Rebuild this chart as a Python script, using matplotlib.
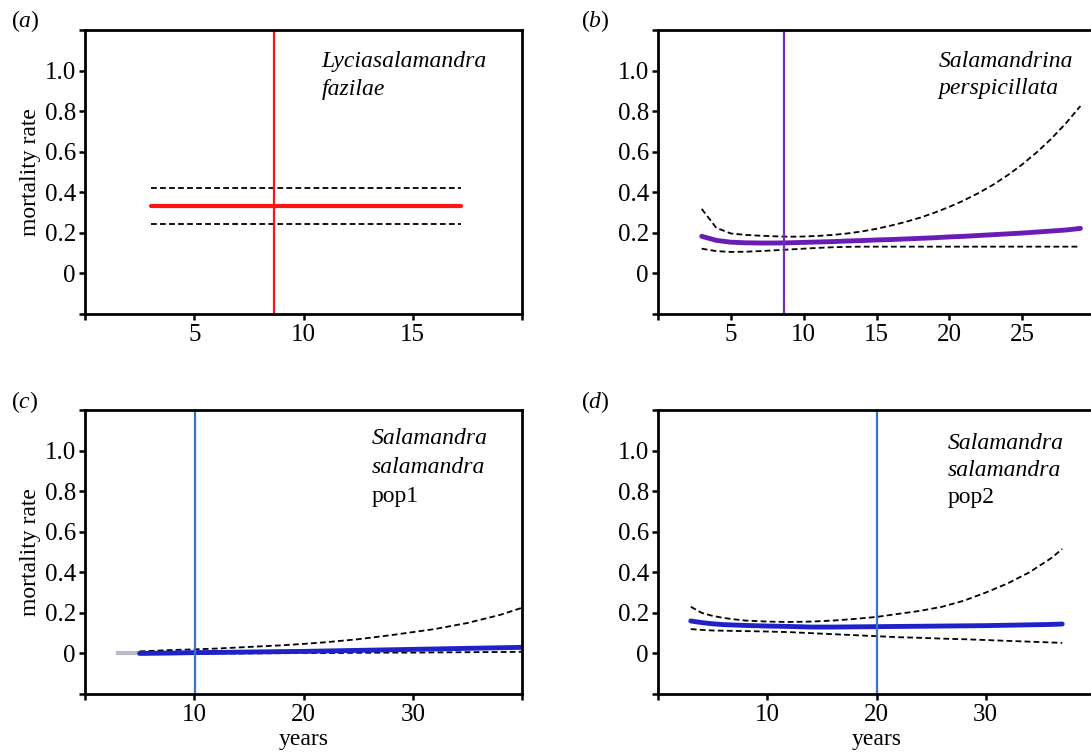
import matplotlib
matplotlib.use("Agg")
import matplotlib.pyplot as plt

plt.rcParams['font.family'] = ['Liberation Serif', 'DejaVu Serif']
plt.rcParams['mathtext.fontset'] = 'custom'
plt.rcParams['mathtext.rm'] = 'Liberation Serif'
plt.rcParams['mathtext.it'] = 'Liberation Serif:italic'

# ---------------- data ----------------
# (a) Lyciasalamandra fazilae
years_a = [3.0, 17.2]
mean_a = [0.33, 0.33]
upper_a = [0.42, 0.42]
lower_a = [0.245, 0.245]
vline_a = 8.66

# (b) Salamandrina perspicillata
years_b = [3, 4, 5, 6, 7, 8, 9, 10, 11, 12, 13, 14, 15, 16, 17, 18, 19, 20,
           21, 22, 23, 24, 25, 26, 27, 28, 29]
mean_b = [0.183, 0.163, 0.154, 0.151, 0.150, 0.150, 0.151, 0.153, 0.155, 0.157,
          0.160, 0.162, 0.165, 0.167, 0.170, 0.173, 0.176, 0.180, 0.183, 0.187,
          0.191, 0.195, 0.199, 0.204, 0.209, 0.214, 0.222]
upper_b = [0.318, 0.225, 0.197, 0.190, 0.186, 0.183, 0.181, 0.182, 0.185, 0.190,
           0.197, 0.207, 0.220, 0.236, 0.254, 0.275, 0.300, 0.328, 0.360, 0.396,
           0.437, 0.484, 0.537, 0.597, 0.664, 0.740, 0.825]
lower_b = [0.122, 0.110, 0.106, 0.107, 0.110, 0.114, 0.118, 0.122, 0.126, 0.129,
           0.131, 0.132, 0.132, 0.132, 0.132, 0.132, 0.132, 0.132, 0.132, 0.132,
           0.132, 0.132, 0.132, 0.132, 0.132, 0.132, 0.132]
vline_b = 8.67

# (c) Salamandra salamandra pop1
years_c = [5, 8, 10, 12, 15, 18, 20, 22, 25, 28, 30, 32, 35, 38, 40]
mean_c = [0.0, 0.002, 0.004, 0.005, 0.007, 0.009, 0.010, 0.012, 0.015, 0.018,
          0.020, 0.022, 0.025, 0.028, 0.030]
upper_c = [0.010, 0.017, 0.020, 0.024, 0.032, 0.040, 0.047, 0.055, 0.070, 0.090,
           0.105, 0.120, 0.150, 0.190, 0.225]
lower_c = [-0.003, -0.002, -0.001, 0.0, 0.0, 0.001, 0.002, 0.002, 0.003, 0.004,
           0.004, 0.005, 0.006, 0.007, 0.008]
early_years_c = [3, 5]
early_mean_c = [0.0, 0.0]
vline_c = 10.1

# (d) Salamandra salamandra pop2
years_d = [3, 4, 5, 6, 7, 8, 10, 12, 14, 16, 18, 20, 22, 24, 26, 28, 30, 32, 34, 36, 37]
mean_d = [0.160, 0.152, 0.146, 0.142, 0.140, 0.138, 0.135, 0.133, 0.130, 0.130,
          0.131, 0.132, 0.133, 0.134, 0.135, 0.136, 0.137, 0.139, 0.141, 0.143, 0.145]
upper_d = [0.230, 0.200, 0.185, 0.175, 0.168, 0.162, 0.157, 0.155, 0.157, 0.162,
           0.170, 0.180, 0.195, 0.210, 0.230, 0.260, 0.300, 0.345, 0.400, 0.470, 0.515]
lower_d = [0.120, 0.116, 0.113, 0.112, 0.111, 0.110, 0.108, 0.105, 0.100, 0.095,
           0.090, 0.085, 0.080, 0.077, 0.073, 0.070, 0.066, 0.062, 0.058, 0.054, 0.052]
vline_d = 20.0

y_ticks = [-0.2, 0, 0.2, 0.4, 0.6, 0.8, 1.0, 1.2]
y_labels = ['', '0', '0.2', '0.4', '0.6', '0.8', '1.0', '']

# ---------------- figure ----------------
W, H = 1091, 753
fig = plt.figure(figsize=(W / 100, H / 100), dpi=100)

def ax_at(left, top, width, height):
    return fig.add_axes([left / W, 1 - (top + height) / H, width / W, height / H])

AW, AH = 437, 284
ax_a = ax_at(85, 30, AW, AH)
ax_b = ax_at(658, 30, AW, AH)
ax_c = ax_at(85, 410, AW, AH)
ax_d = ax_at(658, 410, AW, AH)

FS = 17
TFS = 18
dash = (3.2, 1.8)

def style(ax, xlim, xticks, xlabels):
    ax.set_xlim(*xlim)
    ax.set_ylim(-0.2, 1.2)
    ax.set_xticks(xticks)
    ax.set_xticklabels(xlabels, fontsize=TFS)
    ax.set_yticks(y_ticks)
    ax.set_yticklabels(y_labels, fontsize=TFS)
    for s in ax.spines.values():
        s.set_linewidth(2.0)
    ax.tick_params(direction='out', length=4.5, width=1.8, pad=2)
    ax.tick_params(axis='x', pad=3)

def band(ax, x, m, u, l, color, lw):
    ax.plot(x, u, color='black', lw=1.3, dashes=dash)
    ax.plot(x, l, color='black', lw=1.3, dashes=dash)
    ax.plot(x, m, color=color, lw=lw, solid_capstyle='round')

# (a)
style(ax_a, (0, 20), [0, 5, 10, 15, 20], ['', '5', '10', '15', ''])
band(ax_a, years_a, mean_a, upper_a, lower_a, '#ff1414', 3.0)
ax_a.axvline(vline_a, color='#ff1414', lw=1.6)
ax_a.text(10.83, 1.018, 'Lyciasalamandra', fontsize=FS, style='italic', va='baseline')
ax_a.text(10.83, 0.881, 'fazilae', fontsize=FS, style='italic', va='baseline')
ax_a.set_ylabel('mortality rate', fontsize=FS, labelpad=3)

# (b)
style(ax_b, (0, 30), [0, 5, 10, 15, 20, 25], ['', '5', '10', '15', '20', '25'])
band(ax_b, years_b, mean_b, upper_b, lower_b, '#6a1db5', 3.5)
ax_b.axvline(vline_b, color='#7030b0', lw=1.6)
ax_b.text(19.24, 1.018, 'Salamandrina', fontsize=FS, style='italic', va='baseline')
ax_b.text(19.24, 0.886, 'perspicillata', fontsize=FS, style='italic', va='baseline')

# (c)
style(ax_c, (0, 40), [0, 10, 20, 30, 40], ['', '10', '20', '30', ''])
ax_c.plot(early_years_c, early_mean_c, color='#b8bcc8', lw=3)
band(ax_c, years_c, mean_c, upper_c, lower_c, '#1f22c8', 3.5)
ax_c.axvline(vline_c, color='#3a72cc', lw=1.6)
ax_c.text(26.2, 1.03, 'Salamandra', fontsize=FS, style='italic', va='baseline')
ax_c.text(26.2, 0.889, 'salamandra', fontsize=FS, style='italic', va='baseline')
ax_c.text(26.2, 0.748, 'pop1', fontsize=FS, va='baseline')
ax_c.set_ylabel('mortality rate', fontsize=FS, labelpad=3)

# (d)
style(ax_d, (0, 40), [0, 10, 20, 30, 40], ['', '10', '20', '30', ''])
band(ax_d, years_d, mean_d, upper_d, lower_d, '#1f22c8', 3.5)
ax_d.axvline(vline_d, color='#3a72cc', lw=1.6)
ax_d.text(26.5, 1.01, 'Salamandra', fontsize=FS, style='italic', va='baseline')
ax_d.text(26.5, 0.875, 'salamandra', fontsize=FS, style='italic', va='baseline')
ax_d.text(26.5, 0.74, 'pop2', fontsize=FS, va='baseline')

# x-axis titles, placed under the tick labels
for ax in (ax_c, ax_d):
    ax.set_xlabel('years', fontsize=FS)
    ax.xaxis.set_label_coords(0.5, -(745 - 694) / AH, transform=ax.transAxes)
    ax.xaxis.label.set_va('baseline')

# panel letters
for txt, x, y in [('a', 11, 27), ('b', 581, 27), ('c', 11, 408), ('d', 581, 408)]:
    fig.text(x / W, 1 - y / H, '($\\mathit{%s}$)' % txt, fontsize=FS, va='baseline')

fig.savefig('out.png', dpi=100)
